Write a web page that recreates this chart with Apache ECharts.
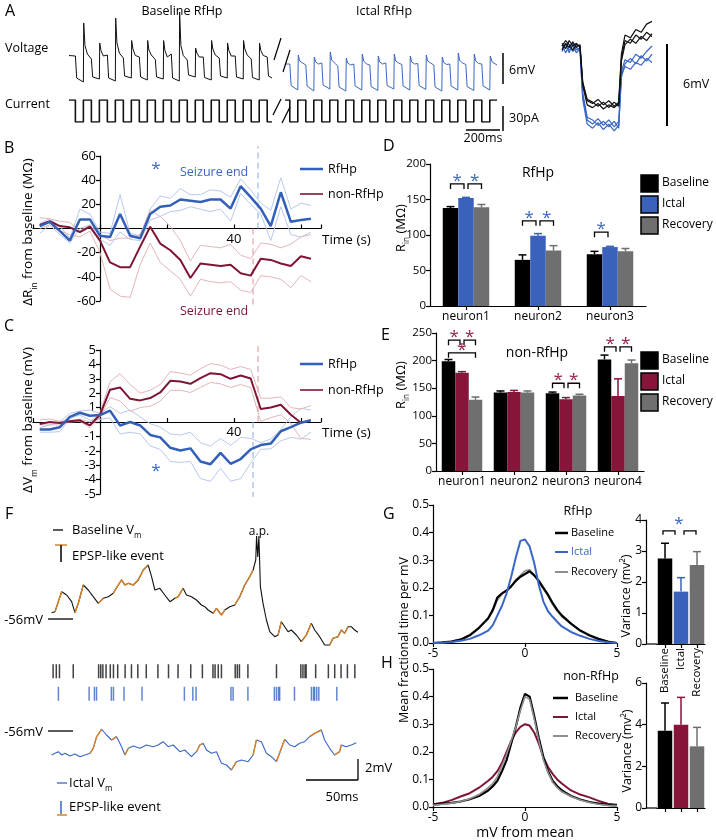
<!DOCTYPE html>
<html>
<head>
<meta charset="utf-8">
<script src="https://cdn.jsdelivr.net/npm/echarts@6.0.0/dist/echarts.min.js"></script>
<style>
  html, body { margin: 0; padding: 0; background: #fff; }
  #chart { width: 716px; height: 840px; }
</style>
</head>
<body>
<div id="chart"></div>
<script>
// ---------- data ----------

// A: step protocol (ms, pA) and voltage responses (ms, mV re. plateau)
const baseCurrent = [[0,0],[40,-30],[90,0],[140,-30],[190,0],[240,-30],[290,0],[340,-30],[390,0],[440,-30],[490,0],[540,-30],[590,0],[640,-30],[690,0],[740,-30],[790,0],[840,-30],[890,0],[940,-30],[990,0],[1040,-30],[1090,0],[1140,-30],[1190,0],[1240,-30],[1270,-30]];
const ictalCurrent = [[0,0],[30,-30],[80,0],[130,-30],[180,0],[230,-30],[280,0],[330,-30],[380,0],[430,-30],[480,0],[530,-30],[580,0],[630,-30],[680,0],[730,-30],[780,0],[830,-30],[880,0],[930,-30],[980,0],[1030,-30],[1080,0],[1130,-30],[1180,0],[1230,-30],[1280,0],[1325,0]];
const baseVoltage = [[0,0.5],[8,0.2],
  [40,0.4],[48,-4.0],[90,-4.8],[92,7.0],[100,2.5],[115,0.8],
  [140,-0.2],[148,-3.8],[190,-4.2],[192,3.0],[200,1.5],[215,0.4],
  [240,0.6],[248,-4.0],[290,-4.6],[292,8.0],[300,3.0],[315,1.0],
  [340,0],[348,-3.6],[390,-4.0],[392,3.5],[400,1.8],[415,0.5],
  [440,0.2],[448,-3.8],[490,-4.4],[492,3.5],[500,1.6],[515,0.6],
  [540,-0.3],[548,-3.8],[590,-4.2],[592,3.5],[600,1.5],[615,0.2],
  [640,0.8],[648,-4.0],[690,-4.6],[692,9.2],[700,2.5],[715,0.5],
  [740,-0.4],[748,-3.4],[790,-3.8],[792,2.0],[800,1.0],[815,0.2],
  [840,0.2],[848,-3.9],[890,-4.4],[892,3.5],[900,1.8],[915,0.6],
  [940,0],[948,-3.6],[990,-4.0],[992,3.0],[1000,1.5],[1015,0.4],
  [1040,0.4],[1048,-3.8],[1090,-4.2],[1092,3.5],[1100,1.8],[1115,0.6],
  [1140,-0.2],[1148,-3.9],[1190,-4.4],[1192,3.0],[1200,1.5],[1215,0.5],
  [1240,0.2],[1248,-3.6],[1270,-4.0]];
const ictalVoltage = [[0,-1.2],
  [30,-1.2],[38,-5.5],[80,-6.4],[83,0.6],[92,-0.6],[110,-1.0],
  [130,-1.4],[138,-5.6],[180,-6.6],[183,0.2],[192,-0.8],[210,-1.2],
  [230,-1.0],[238,-5.4],[280,-6.2],[283,1.2],[292,-0.4],[310,-1.0],
  [330,-1.6],[338,-5.8],[380,-6.6],[383,0],[392,-1.0],[410,-1.4],
  [430,-1.2],[438,-5.6],[480,-6.4],[483,0.8],[492,-0.6],[510,-1.2],
  [530,-1.4],[538,-5.7],[580,-6.5],[583,0.4],[592,-0.8],[610,-1.2],
  [630,-1.0],[638,-5.5],[680,-6.2],[683,0.8],[692,-0.6],[710,-1.0],
  [730,-1.3],[738,-5.6],[780,-6.4],[783,0.4],[792,-0.8],[810,-1.2],
  [830,-1.1],[838,-5.5],[880,-6.3],[883,0.6],[892,-0.6],[910,-1.0],
  [930,-1.4],[938,-5.8],[980,-6.6],[983,0.2],[992,-0.9],[1010,-1.3],
  [1030,-1.2],[1038,-5.6],[1080,-6.4],[1083,1.0],[1092,-0.5],[1110,-1.0],
  [1130,-1.3],[1138,-5.7],[1180,-6.5],[1183,0.8],[1192,-0.6],[1210,-1.1],
  [1230,-1.2],[1238,-5.6],[1280,-6.4],[1283,0.4],[1295,-0.8],[1325,-1.4]];
// A inset: overlaid single steps (ms, mV)
const insetBase1 = [[0,-0.2],[4,0.3],[8,0],[12,0.4],[16,0],[20,0.2],[23,-2.5],[28,-3.9],[34,-4.1],[40,-3.8],[46,-4.2],[52,-3.9],[58,-4.3],[63,-4.0],[66,-0.5],[70,0.9],[76,0.7],[82,1.3],[88,1.1],[94,1.7],[100,1.9]];
const insetBase2 = [[0,0.3],[4,-0.1],[8,0.5],[12,0.1],[16,0.3],[20,0],[23,-2.8],[28,-4.2],[34,-4.4],[40,-4.1],[46,-4.5],[52,-4.2],[58,-4.4],[63,-4.1],[66,-0.8],[70,0.5],[76,0.3],[82,0.9],[88,0.6],[94,1.1],[100,0.8]];
const insetBase3 = [[0,0.1],[4,0.5],[8,0.2],[12,-0.2],[16,0.2],[20,0.1],[23,-2.6],[28,-3.8],[34,-4.0],[40,-4.3],[46,-4.0],[52,-4.4],[58,-4.0],[63,-4.3],[66,-1.0],[70,0.2],[76,0.6],[82,0.3],[88,0.8],[94,0.5],[100,1.0]];
const insetIctal1 = [[0,-0.3],[4,0.2],[8,-0.4],[12,0.3],[16,-0.2],[20,0],[23,-3.5],[28,-5.3],[34,-5.6],[40,-5.2],[46,-5.7],[52,-5.3],[58,-5.8],[63,-5.4],[66,-1.8],[70,-0.9],[76,-1.1],[82,-0.5],[88,-0.8],[94,-0.3],[100,0.1]];
const insetIctal2 = [[0,0.2],[4,-0.4],[8,0.1],[12,-0.3],[16,0],[20,-0.2],[23,-3.8],[28,-5.6],[34,-5.9],[40,-5.5],[46,-6.0],[52,-5.6],[58,-6.1],[63,-5.7],[66,-2.2],[70,-1.2],[76,-0.8],[82,-1.2],[88,-0.6],[94,-1.0],[100,-0.5]];
const insetIctal3 = [[0,-0.1],[4,0.3],[8,-0.2],[12,0.1],[16,-0.4],[20,-0.1],[23,-3.3],[28,-5.1],[34,-5.3],[40,-5.7],[46,-5.4],[52,-5.8],[58,-5.4],[63,-5.9],[66,-2.0],[70,-1.4],[76,-1.6],[82,-1.1],[88,-1.3],[94,-0.8],[100,-1.1]];

// B, C: time course (s)
const timeS = [-18,-15,-12,-9,-6,-3,0,3,6,9,12,15,18,21,24,27,30,33,36,39,42,45,48,51,54,57,60,63];
const rfhpRinMean = [2,5.5,-2,-10,7.5,7.5,-6,-7,12,-6,-8,12,18,19,24,23,22,24,24,16.5,35,26,16.5,2,30,5.5,7,8];
const rfhpRinUp = [4,8,2,-8,16,12,-3,-4,28,-4,-6,16,27,25,33,28,28,32,31,26,41,32,21,15,42,16,21,19];
const rfhpRinLo = [-4,3,-5,-12,0,3,-9,-14,-3,-9,-10,7,10,14,15,18,16,14,16,6,29,20,12,-10,18,-5,-7,-3];
const nonRinMean = [3,6,2,1,-3,1.5,-10,-28,-32,-32,-15,1.5,-12.5,-18,-26,-41,-29,-30,-31,-30,-37,-39,-25,-26,-29,-31,-23,-25];
const nonRinUp = [9,8,6,5,-2,3,-5,-10,-8,-8,-5,15,10,2,-10,-27,-14,-15,-16,-13,-22,-25,-12,-13,-16,-13,-7,-5];
const nonRinLo = [0,3,-2,-5,-7,-2,-20,-50,-56,-57,-30,-12,-28,-35,-42,-56,-42,-44,-45,-44,-51,-53,-39,-40,-42,-49,-39,-44];
const rfhpVmMean = [-0.52,-0.52,-0.36,0.36,0.64,0.43,0.48,0.79,-0.24,0,-0.24,-0.9,-1.07,-1.79,-1.98,-1.83,-2.74,-2.93,-2.14,-2.9,-2.57,-1.9,-1.6,-1.5,-0.64,-0.36,-0.05,0.12];
const rfhpVmUp = [-0.2,-0.2,0,0.6,0.76,0.83,0.6,1.07,0.6,0.83,0.36,-0.12,-0.36,-0.83,-0.9,-0.71,-1.43,-1.67,-1.14,-1.62,-1.07,-1.14,-1.43,-1.19,-0.52,0.36,0.95,0.83];
const rfhpVmLo = [-0.71,-0.71,-0.67,0.24,0.48,0.12,0.19,0.29,-0.83,-0.71,-0.83,-1.67,-1.9,-2.74,-2.81,-2.74,-3.93,-4.12,-3.21,-4.12,-3.93,-2.86,-1.9,-1.86,-1.31,-1.07,-1.19,-0.71];
const nonVmMean = [-0.14,0,-0.07,0.05,0.12,-0.23,0.5,2.24,2.4,1.61,1.5,1.66,2.05,2.86,2.81,2.65,3.04,3.39,3.32,3.0,3.23,3.02,0.9,1.01,1.2,0.5,-0.05,null];
const nonVmUp = [0.15,0.2,0.05,0.1,0.2,0,0.6,2.8,3.35,2.6,2.0,2.2,2.6,3.5,3.4,3.25,3.7,4.05,3.95,3.65,3.85,3.65,1.65,1.65,1.75,1.0,0.9,1.15];
const nonVmLo = [-0.4,-0.2,-0.2,0,0.05,-0.4,0.35,1.7,1.45,0.75,1.0,1.1,1.45,2.2,2.2,2.05,2.4,2.75,2.65,2.4,2.6,2.4,0.05,0.3,0.5,-0.1,-1.15,-1.2];
const seizureEndUpper = 47.2, seizureEndLower = 45.7;

// D, E: input resistance (MOhm)
const neuronsD = ['neuron1', 'neuron2', 'neuron3'];
const baseD = [138, 65, 73], baseErrD = [2, 7, 4];
const ictalD = [152, 99, 83], ictalErrD = [1, 3, 1];
const recD = [139, 78, 77], recErrD = [4, 7, 4];
const sigD = [[0,0,1,172],[0,1,2,172],[1,0,1,120],[1,1,2,120],[2,0,1,104]]; // [neuron, barA, barB, level]
const neuronsE = ['neuron1', 'neuron2', 'neuron3', 'neuron4'];
const baseE = [199, 142, 141, 202], baseErrE = [3, 3, 2, 8];
const ictalE = [178, 143, 130, 136], ictalErrE = [2, 3, 3, 31];
const recE = [129, 142, 137, 195], recErrE = [5, 3, 2, 6];
const sigE = [[0,0,1,237],[0,1,2,237],[0,0,2,214],[2,0,1,159],[2,1,2,159],[3,0,1,225],[3,1,2,225]];

// F: Vm traces (ms, mV) and EPSP-like event times (ms)
const baseVm = [[0.6,-55.27],[3.8,-55.17],[10.1,-53.17],[14.8,-53.5],[19.5,-54.17],[22.6,-55.27],[25.8,-54.33],[30.5,-52.5],[35.2,-53],[39.9,-53.67],[44.7,-54.33],[49.4,-53.83],[54.1,-53.67],[58.8,-53.33],[63.5,-52.5],[66.7,-52],[69.8,-52.5],[73,-52.33],[77.7,-52.5],[82.4,-52],[87.1,-51],[91.8,-50.5],[95,-51.67],[98.1,-53],[102.8,-52.83],[107.5,-53.5],[112.3,-54.17],[117,-53.83],[120.1,-53.67],[124.8,-52.83],[128,-53.5],[132.7,-53.67],[137.4,-54],[142.1,-54.5],[145.3,-54.67],[148.4,-55],[153.1,-55.33],[156.3,-54.83],[161,-55.5],[164.2,-55],[168.9,-54.67],[173.6,-54.5],[178.3,-53.67],[183,-52.5],[187.7,-51.67],[190.9,-51],[193.4,-50],[194.2,-47.6],[195.3,-49.7],[196.4,-47.6],[197.8,-52.67],[200.3,-54.33],[203.5,-56],[206.6,-57.17],[211.3,-57.67],[214.5,-57.5],[217.6,-56.17],[220.8,-56.67],[223.9,-57.17],[227,-57],[231.8,-57.5],[236.5,-58.17],[241.2,-57.5],[245.9,-56.33],[249.1,-57],[253.8,-57.67],[258.5,-58.5],[263.2,-58.5],[266.4,-57.83],[271,-57.67],[274.2,-57],[277.4,-57.33],[280.5,-56.67],[283.7,-56.67],[286.8,-57],[289.9,-57.23]];
const ictalVm = [[0.6,-58.3],[3.8,-58.13],[6.9,-57.97],[10.1,-58.3],[13.2,-58.13],[17.9,-58.4],[22.6,-58.2],[27.4,-58.47],[32.1,-58.3],[36.8,-58.13],[39.9,-57.63],[43.1,-56.47],[47.8,-55.73],[52.5,-56.3],[57.2,-56.8],[61.9,-56.47],[66.7,-57.47],[69.8,-58.3],[73,-57.63],[77.7,-57.4],[84,-57.63],[90.3,-57.3],[96.5,-57.47],[101.2,-57.3],[105.9,-56.97],[110.7,-57.47],[115.4,-57.3],[121.7,-57.97],[126.4,-57.8],[129.6,-58.13],[132.7,-58.47],[137.4,-57.97],[140.6,-57.3],[143.7,-57.13],[146.9,-57.8],[151.6,-58.13],[156.3,-57.97],[161,-59.13],[165.7,-59.3],[170.4,-59.8],[175.2,-58.97],[179.9,-58.8],[186.2,-58.97],[190.9,-58.3],[194,-56.8],[198.7,-56.97],[203.5,-58.13],[208.2,-58.47],[212.9,-58.97],[217.6,-57.63],[220.8,-56.73],[225.5,-57.3],[230.2,-57.47],[234.9,-57.13],[239.6,-56.97],[244.3,-56.47],[249.1,-56.13],[255.3,-55.8],[258.5,-56.8],[263.2,-57.63],[267.9,-58.3],[272.6,-57.97],[274.2,-57.3],[278.9,-57.47],[283.7,-57.3],[288.4,-57.07]];
const baseEvents = [[3.8,10.1],[22.6,30.5],[44.7,49.4],[58.8,66.7],[69.8,73],[77.7,91.8],[117,124.8],[153.1,156.3],[161,164.2],[173.6,190.9],[214.5,217.6],[236.5,245.9],[263.2,266.4],[271,274.2],[277.4,280.5]];
const ictalEvents = [[36.8,47.8],[57.2,61.9],[69.8,73],[137.4,143.7],[170.4,175.2],[190.9,194],[212.9,220.8],[244.3,255.3],[267.9,274.2]];
const baseRaster = [2,5,8,21,45,47,49,52,56,59,63,70,76,82,90,101,111,120,132,143,153,155,158,161,174,176,178,186,213,236,238,240,241,250,262,268,274,280,287];
const ictalRaster = [7,36,41,43,57,59,69,86,126,134,137,170,172,186,211,213,215,216,230,246,248,249,251,253,270];

// G, H: Vm distributions and variance
const mvFromMean = [-5,-4.5,-4,-3.5,-3,-2.5,-2,-1.75,-1.5,-1.25,-1,-0.75,-0.5,-0.25,0,0.25,0.5,0.75,1,1.25,1.5,1.75,2,2.5,3,3.5,4,4.5,5];
const rfhpDistBase = [0,0.002,0.005,0.012,0.028,0.055,0.09,0.12,0.165,0.18,0.19,0.205,0.225,0.24,0.25,0.26,0.245,0.225,0.2,0.175,0.145,0.12,0.1,0.07,0.045,0.028,0.015,0.005,0];
const rfhpDistIctal = [0,0.001,0.004,0.008,0.015,0.028,0.045,0.065,0.1,0.135,0.18,0.24,0.31,0.37,0.375,0.35,0.29,0.21,0.15,0.115,0.095,0.077,0.06,0.04,0.026,0.015,0.007,0.003,0];
const rfhpDistRec = [0,0.002,0.006,0.014,0.03,0.055,0.088,0.115,0.155,0.178,0.19,0.207,0.23,0.245,0.262,0.265,0.248,0.22,0.195,0.17,0.14,0.115,0.095,0.07,0.045,0.026,0.013,0.005,0];
const nonDistBase = [0.008,0.012,0.015,0.02,0.028,0.04,0.06,0.075,0.095,0.13,0.17,0.23,0.29,0.36,0.41,0.4,0.33,0.25,0.18,0.13,0.095,0.075,0.06,0.04,0.027,0.018,0.012,0.008,0.005];
const nonDistIctal = [0.01,0.015,0.025,0.038,0.05,0.07,0.095,0.11,0.13,0.16,0.2,0.24,0.27,0.29,0.3,0.295,0.27,0.23,0.18,0.145,0.12,0.1,0.085,0.06,0.045,0.035,0.022,0.012,0.008];
const nonDistRec = [0.006,0.01,0.014,0.02,0.03,0.045,0.07,0.085,0.11,0.15,0.19,0.24,0.29,0.35,0.4,0.39,0.32,0.24,0.17,0.125,0.09,0.07,0.055,0.038,0.025,0.016,0.01,0.006,0.004];
const conditions = ['Baseline', 'Ictal', 'Recovery'];
const varRfhp = [2.76, 1.69, 2.55], varErrRfhp = [0.49, 0.45, 0.43];
const varNon = [3.71, 4.0, 2.96], varErrNon = [1.33, 1.31, 0.91];
const sigG = [[0,1,3.65],[1,2,3.65]];
const starG = [[1, 3.92]];

// ---------- styling ----------
const FONT = '"Open Sans", "Noto Sans", sans-serif';
const BLUE = '#3260b8', LBLUE = '#b9c9ec', RED = '#7e1533', LRED = '#e3b6b8';
const BAR_BLUE = '#3b62ba', BAR_RED = '#861539', GRAY = '#6f6f6f', LGRAY = '#8e8e8e';
const ORANGE = '#d9822b';

const grids = [], xAxes = [], yAxes = [], series = [], gfx = [];

function addGrid(rect, xa, ya) {
  const i = grids.length;
  grids.push(Object.assign({outerBoundsMode: 'none'}, rect));
  xAxes.push(Object.assign({gridIndex: i}, xa));
  yAxes.push(Object.assign({gridIndex: i}, ya));
  return i;
}
function hidden(min, max) { return {type: 'value', min: min, max: max, show: false}; }
function axis(base, size) {
  return Object.assign({
    axisLine: {show: true, onZero: false, lineStyle: {color: '#000', width: 1.2}},
    axisTick: {show: true, length: 4, lineStyle: {color: '#000', width: 1.2}},
    axisLabel: {color: '#000', fontFamily: FONT, fontSize: size, margin: 4},
    splitLine: {show: false}
  }, base);
}
function line(gi, data, color, width, z, extra) {
  return Object.assign({type: 'line', xAxisIndex: gi, yAxisIndex: gi, data: data, symbol: 'none',
    lineStyle: {color: color, width: width}, z: z || 2, silent: true, animation: false}, extra || {});
}
function pairs(xs, ys) { return xs.map((x, i) => [x, ys[i]]); }
function inEvents(pts, ranges) {
  return pts.map(p => ranges.some(r => p[0] >= r[0] && p[0] <= r[1]) ? p : [p[0], null]);
}
function errBars(gi, vals, errs, offset, colors) {
  return {type: 'custom', xAxisIndex: gi, yAxisIndex: gi, z: 1, silent: true,
    data: vals.map((v, i) => [i, v, errs[i]]),
    renderItem: (p, api) => {
      const b = api.coord([api.value(0), api.value(1)]);
      const t = api.coord([api.value(0), api.value(1) + api.value(2)]);
      const x = b[0] + offset;
      const c = Array.isArray(colors) ? colors[p.dataIndex] : colors;
      return {type: 'group', children: [
        {type: 'line', shape: {x1: x, y1: b[1], x2: x, y2: t[1]}, style: {stroke: c, lineWidth: 1.5}},
        {type: 'line', shape: {x1: x - 4, y1: t[1], x2: x + 4, y2: t[1]}, style: {stroke: c, lineWidth: 1.5}}]};
    }};
}
function star(x, y, color) {
  return {type: 'text', x: x, y: y, style: {text: '*', fill: color, fontFamily: FONT, fontSize: 17,
    textAlign: 'center', textVerticalAlign: 'middle', align: 'center', verticalAlign: 'middle'}};
}
function brackets(gi, rows, bw, color) {
  return {type: 'custom', xAxisIndex: gi, yAxisIndex: gi, z: 5, silent: true, data: rows,
    renderItem: (p, api) => {
      const c = api.value(0), a = api.value(1), b = api.value(2);
      const pt = api.coord([c, api.value(3)]);
      let x1 = pt[0] + (a - 1) * bw, x2 = pt[0] + (b - 1) * bw;
      if (a === 1) x1 += 2;
      if (b === 1) x2 -= 2;
      const y = pt[1];
      return {type: 'group', children: [
        {type: 'polyline', shape: {points: [[x1, y + 5], [x1, y], [x2, y], [x2, y + 5]]}, style: {stroke: '#000', lineWidth: 1.3, fill: null}},
        star((x1 + x2) / 2, y - 3, color)]};
    }};
}
function txt(x, y, text, size, color, align, rot, rich) {
  const st = {text: text, fill: color || '#000', fontFamily: FONT, fontSize: size || 12,
    textAlign: align || 'left', textVerticalAlign: 'middle', align: align || 'left', verticalAlign: 'middle'};
  if (rich) st.rich = rich;
  return {type: 'text', x: x, y: y, rotation: rot || 0, z: 50, style: st};
}
function seg(x1, y1, x2, y2, color, w, dash) {
  const st = {stroke: color || '#000', lineWidth: w || 1.2};
  if (dash) st.lineDash = dash;
  return {type: 'line', z: 50, shape: {x1: x1, y1: y1, x2: x2, y2: y2}, style: st};
}
function box(x, y, color) {
  return {type: 'rect', z: 50, shape: {x: x, y: y, width: 17, height: 17}, style: {fill: color, stroke: '#000', lineWidth: 1.5}};
}
function sub(size, color) {
  return {a: {fontSize: size, fontFamily: FONT, fill: color, color: color},
          s: {fontSize: size * 0.62, fontFamily: FONT, fill: color, color: color, verticalAlign: 'bottom', lineHeight: size * 1.5}};
}

// ---------- A ----------
const gA1 = addGrid({left: 69, top: 10, width: 203, height: 90}, hidden(0, 1270), hidden(-8.4, 9.6));
const gA2 = addGrid({left: 69, top: 100, width: 203, height: 22}, hidden(0, 1270), hidden(-30, 0));
const gA3 = addGrid({left: 285, top: 10, width: 212, height: 90}, hidden(0, 1325), hidden(-8.4, 9.6));
const gA4 = addGrid({left: 285, top: 100, width: 212, height: 22}, hidden(0, 1325), hidden(-30, 0));
const gA5 = addGrid({left: 562, top: 20, width: 90, height: 115}, hidden(0, 100), hidden(-6.4, 2));
series.push(line(gA1, baseVoltage, '#111', 1));
series.push(line(gA2, baseCurrent, '#111', 1.6, 2, {step: 'end'}));
series.push(line(gA3, ictalVoltage, '#3a66c4', 1));
series.push(line(gA4, ictalCurrent, '#111', 1.6, 2, {step: 'end'}));
[insetBase1, insetBase2, insetBase3].forEach(d => series.push(line(gA5, d, '#111', 1.2, 3)));
[insetIctal1, insetIctal2, insetIctal3].forEach(d => series.push(line(gA5, d, '#3a66c4', 1.2, 2)));
gfx.push(txt(5, 11, 'A', 16));
gfx.push(txt(182, 11, 'Baseline RfHp', 12.5, '#000', 'center'));
gfx.push(txt(384, 11, 'Ictal RfHp', 12.5, '#000', 'center'));
gfx.push(txt(5, 48, 'Voltage', 12.5));
gfx.push(txt(5, 104, 'Current', 12.5));
gfx.push(seg(274, 60, 281, 38), seg(283, 72, 290, 50), seg(273, 115, 281, 99), seg(282, 123, 290, 107));
gfx.push(seg(503, 53, 503, 84, '#000', 1.5), txt(509, 70, '6mV', 12.5));
gfx.push(seg(503, 106, 503, 131, '#000', 1.5), txt(509, 118, '30pA', 12.5));
gfx.push(seg(466, 130, 500, 130, '#000', 1.5), txt(483, 138, '200ms', 12.5, '#000', 'center'));
gfx.push(seg(667, 44, 667, 126, '#000', 2), txt(683, 84, '6mV', 12.5));

// ---------- B, C ----------
// axes cross at (0, 0): moved there with offsets from the grid edges
function timeAxes(ymin, ymax, yint, zeroShiftX, zeroShiftY) {
  const xa = axis({type: 'value', min: -20, max: 66, interval: 20, offset: -zeroShiftY}, 13);
  xa.axisTick.inside = true;
  xa.axisLabel.formatter = v => v === 40 ? '40' : '';
  const ya = axis({type: 'value', min: ymin, max: ymax, interval: yint, offset: -zeroShiftX}, 13);
  ya.axisLabel.formatter = v => v === 0 ? '' : String(v);
  return [xa, ya];
}
const axB = timeAxes(-60, 60, 20, 67, 72.5);
const gB = addGrid({left: 33, top: 156, width: 288, height: 145}, axB[0], axB[1]);
const axC = timeAxes(-5, 5, 1, 67, 72);
const gC = addGrid({left: 33, top: 350, width: 288, height: 144}, axC[0], axC[1]);

function timeSeries(gi, rm, ru, rl, nm, nu, nl) {
  series.push(line(gi, pairs(timeS, ru), LBLUE, 1, 1));
  series.push(line(gi, pairs(timeS, rl), LBLUE, 1, 1));
  series.push(line(gi, pairs(timeS, nu), LRED, 1, 1));
  series.push(line(gi, pairs(timeS, nl), LRED, 1, 1));
  series.push(line(gi, pairs(timeS, nm), RED, 2, 3));
  series.push(line(gi, pairs(timeS, rm), BLUE, 2.5, 4));
}
timeSeries(gB, rfhpRinMean, rfhpRinUp, rfhpRinLo, nonRinMean, nonRinUp, nonRinLo);
timeSeries(gC, rfhpVmMean, rfhpVmUp, rfhpVmLo, nonVmMean, nonVmUp, nonVmLo);
function dashed(gi, x, y1, y2, color) {
  return line(gi, [[x, y1], [x, y2]], color, 1.2, 1, {lineStyle: {color: color, width: 1.2, type: [6, 4]}, clip: false});
}
series.push(dashed(gB, seizureEndUpper, 0, 68, '#9fb6e6'), dashed(gB, seizureEndLower, 0, -64, '#e0a5a8'));
series.push(dashed(gC, seizureEndUpper, 0, 5.5, '#e0a5a8'), dashed(gC, seizureEndLower, 0, -5.2, '#9fb6e6'));

gfx.push(txt(4, 148, 'B', 16), txt(4, 326, 'C', 16));
gfx.push(txt(322, 240, 'Time (s)', 13.5), txt(322, 433, 'Time (s)', 13.5));
gfx.push(txt(28, 232, '{a|ΔR}{s|in}{a| from baseline (MΩ)}', 13.5, '#000', 'center', Math.PI / 2, sub(13.5, '#000')));
gfx.push(txt(28, 420, '{a|ΔV}{s|m}{a| from baseline (mV)}', 13.5, '#000', 'center', Math.PI / 2, sub(13.5, '#000')));
[[169, 194], [364, 390]].forEach(ys => {
  gfx.push(seg(300, ys[0], 323, ys[0], BLUE, 2.5), txt(328, ys[0], 'RfHp', 12.5));
  gfx.push(seg(300, ys[1], 323, ys[1], RED, 1.6), txt(328, ys[1], 'non-RfHp', 12.5));
});
gfx.push(txt(180, 172, 'Seizure end', 12.5, '#3a66c4'));
gfx.push(txt(180, 311, 'Seizure end', 12.5, RED));
gfx.push(star(156, 169, '#3a66c4'), star(156, 471, '#3a66c4'));

// ---------- D, E ----------
function barAxes(cats, max, interval) {
  const xa = axis({type: 'category', data: cats}, 12);
  xa.axisTick.alignWithLabel = true;
  xa.axisLabel.margin = 5;
  xa.axisLabel.interval = 0;
  const ya = axis({type: 'value', min: 0, max: max, interval: interval}, 11.5);
  return [xa, ya];
}
const axD = barAxes(neuronsD, 200, 50);
const gD = addGrid({left: 430, top: 164, width: 216, height: 142}, axD[0], axD[1]);
const axE = barAxes(neuronsE, 250, 50);
const gE = addGrid({left: 436, top: 333, width: 208, height: 138}, axE[0], axE[1]);

function groupBars(gi, bw, ictalColor, b, be, ic, ie, r, re, sig) {
  [[b, '#000'], [ic, ictalColor], [r, GRAY]].forEach(s => series.push({type: 'bar', xAxisIndex: gi, yAxisIndex: gi,
    data: s[0], barWidth: bw, barGap: '0%', itemStyle: {color: s[1]}, z: 2, animation: false, silent: true}));
  series.push(errBars(gi, b, be, -bw, '#000'), errBars(gi, ic, ie, 0, ictalColor), errBars(gi, r, re, bw, GRAY));
  series.push(brackets(gi, sig, bw, ictalColor === BAR_BLUE ? '#3a66c4' : '#9b1d45'));
}
groupBars(gD, 15.5, BAR_BLUE, baseD, baseErrD, ictalD, ictalErrD, recD, recErrD, sigD);
groupBars(gE, 13.5, BAR_RED, baseE, baseErrE, ictalE, ictalErrE, recE, recErrE, sigE);

gfx.push(txt(383, 146, 'D', 16), txt(381, 335, 'E', 16));
gfx.push(txt(538, 173, 'RfHp', 14, '#000', 'center'), txt(537, 353, 'non-RfHp', 14, '#000', 'center'));
gfx.push(txt(401, 228, '{a|R}{s|in}{a| (MΩ)}', 13, '#000', 'center', Math.PI / 2, sub(13, '#000')));
gfx.push(txt(401, 385, '{a|R}{s|in}{a| (MΩ)}', 13, '#000', 'center', Math.PI / 2, sub(13, '#000')));
[[175, BAR_BLUE], [352, BAR_RED]].forEach(l => {
  const y0 = l[0];
  gfx.push(box(641, y0, '#000'), txt(662, y0 + 8, 'Baseline', 12));
  gfx.push(box(641, y0 + 21, l[1]), txt(662, y0 + 29, 'Ictal', 12));
  gfx.push(box(641, y0 + 42, GRAY), txt(662, y0 + 50, 'Recovery', 12));
});

// ---------- F ----------
const gF1 = addGrid({left: 51, top: 530, width: 307, height: 120}, hidden(0, 290), hidden(-59, -47));
const gF2 = addGrid({left: 51, top: 660, width: 307, height: 45}, hidden(0, 290), hidden(-0.5, 1.5));
const gF3 = addGrid({left: 51, top: 720, width: 307, height: 60}, hidden(0, 290), hidden(-60.8, -54.8));
series.push(line(gF1, baseVm, '#111', 1.1, 2));
series.push(line(gF1, inEvents(baseVm, baseEvents), ORANGE, 1.4, 3));
series.push(line(gF3, ictalVm, '#3a66c4', 1.1, 2));
series.push(line(gF3, inEvents(ictalVm, ictalEvents), ORANGE, 1.4, 3));
series.push({type: 'scatter', xAxisIndex: gF2, yAxisIndex: gF2, data: baseRaster.map(t => [t, 1]), symbol: 'rect',
  symbolSize: [1.5, 14], itemStyle: {color: '#111'}, silent: true, animation: false});
series.push({type: 'scatter', xAxisIndex: gF2, yAxisIndex: gF2, data: ictalRaster.map(t => [t, 0]), symbol: 'rect',
  symbolSize: [1.5, 14], itemStyle: {color: '#3a66c4'}, silent: true, animation: false});

gfx.push(txt(5, 514, 'F', 16));
gfx.push(seg(53, 530, 63, 530, '#000', 1.3), txt(72, 530, '{a|Baseline V}{s|m}', 13, '#000', 'left', 0, sub(13, '#000')));
gfx.push(seg(55, 545, 67, 545, ORANGE, 1.5), seg(61, 545, 61, 562, '#000', 1.5), txt(72, 556, 'EPSP-like event', 13));
gfx.push(txt(259, 532, 'a.p.', 12, '#000', 'center'));
gfx.push(txt(43, 620, '-56mV', 13, '#000', 'right'), seg(48, 619, 73, 619, '#000', 1.3));
gfx.push(txt(43, 732, '-56mV', 13, '#000', 'right'), seg(48, 731, 73, 731, '#000', 1.3));
gfx.push(seg(306, 780, 358, 780, '#000', 1.3), seg(358, 759, 358, 780, '#000', 1.3));
gfx.push(txt(342, 797, '50ms', 13, '#000', 'center'), txt(365, 768, '2mV', 13));
gfx.push(seg(57, 783, 67, 783, '#3a66c4', 1.3), txt(69, 783, '{a|Ictal V}{s|m}', 13, '#000', 'left', 0, sub(13, '#000')));
gfx.push(seg(61, 801, 61, 814, '#3a66c4', 1.5), seg(57, 815, 67, 815, ORANGE, 1.5), txt(69, 807, 'EPSP-like event', 13));

// ---------- G, H ----------
function distAxes() {
  const xa = axis({type: 'value', min: -5, max: 5, interval: 5}, 12);
  xa.axisLabel.margin = 5;
  const ya = axis({type: 'value', min: 0, max: 0.5, interval: 0.1}, 12);
  ya.axisLabel.formatter = v => v.toFixed(1);
  return [xa, ya];
}
function varAxes(max, interval, showLabels) {
  const xa = axis({type: 'category', data: conditions}, 11.5);
  xa.axisTick.alignWithLabel = true;
  xa.axisLabel.rotate = 90;
  xa.axisLabel.interval = 0;
  xa.axisLabel.show = showLabels;
  const ya = axis({type: 'value', min: 0, max: max, interval: interval, offset: 11}, 12);
  return [xa, ya];
}
const axG = distAxes();
const gG = addGrid({left: 433, top: 505, width: 184, height: 138}, axG[0], axG[1]);
const axGv = varAxes(4, 1, true);
const gGv = addGrid({left: 657, top: 520, width: 48, height: 124}, axGv[0], axGv[1]);
const axH = distAxes();
const gH = addGrid({left: 433, top: 669, width: 184, height: 138}, axH[0], axH[1]);
const axHv = varAxes(6, 2, false);
const gHv = addGrid({left: 657, top: 683, width: 48, height: 125}, axHv[0], axHv[1]);

series.push(line(gG, pairs(mvFromMean, rfhpDistRec), LGRAY, 1.6, 2));
series.push(line(gG, pairs(mvFromMean, rfhpDistBase), '#000', 2.2, 3));
series.push(line(gG, pairs(mvFromMean, rfhpDistIctal), '#3a66c4', 2, 4));
series.push(line(gH, pairs(mvFromMean, nonDistRec), LGRAY, 1.6, 4));
series.push(line(gH, pairs(mvFromMean, nonDistIctal), RED, 2, 2));
series.push(line(gH, pairs(mvFromMean, nonDistBase), '#000', 2.2, 3));

function varBars(gi, vals, errs, colors) {
  series.push({type: 'bar', xAxisIndex: gi, yAxisIndex: gi, barWidth: 14.5, z: 2, silent: true, animation: false,
    data: vals.map((v, i) => ({value: v, itemStyle: {color: colors[i]}}))});
  series.push(errBars(gi, vals, errs, 0, colors));
}
varBars(gGv, varRfhp, varErrRfhp, ['#000', BAR_BLUE, GRAY]);
varBars(gHv, varNon, varErrNon, ['#000', BAR_RED, GRAY]);
series.push({type: 'custom', xAxisIndex: gGv, yAxisIndex: gGv, z: 5, silent: true, data: sigG,
  renderItem: (p, api) => {
    const a = api.value(0), b = api.value(1);
    const pa = api.coord([a, api.value(2)]), pb = api.coord([b, api.value(2)]);
    const x1 = pa[0] - 2 + (a === 1 ? 5 : 0), x2 = pb[0] + (b === 1 ? -6 : -1), y = pa[1];
    return {type: 'polyline', shape: {points: [[x1, y + 4], [x1, y], [x2, y], [x2, y + 4]]}, style: {stroke: '#000', lineWidth: 1.3, fill: null}};
  }});
series.push({type: 'custom', xAxisIndex: gGv, yAxisIndex: gGv, z: 5, silent: true, data: starG,
  renderItem: (p, api) => { const c = api.coord([api.value(0), api.value(1)]); return star(c[0] - 2, c[1] + 2, '#3a66c4'); }});

gfx.push(txt(383, 514, 'G', 16), txt(381, 663, 'H', 16));
gfx.push(seg(646, 644, 657, 644, '#000', 1.2), seg(646, 808, 657, 808, '#000', 1.2));
gfx.push(txt(578, 511, 'RfHp', 12.5, '#000', 'center'), txt(591, 676, 'non-RfHp', 12.5, '#000', 'center'));
gfx.push(seg(555, 533, 568, 533, '#000', 2.5), txt(571, 533, 'Baseline', 11));
gfx.push(seg(555, 552, 568, 552, '#3a66c4', 2), txt(571, 552, 'Ictal', 11, '#3a66c4'));
gfx.push(seg(555, 572, 568, 572, LGRAY, 2), txt(571, 572, 'Recovery', 11));
gfx.push(seg(553, 698, 568, 698, '#000', 2.5), txt(575, 698, 'Baseline', 11));
gfx.push(seg(553, 717, 568, 717, RED, 2), txt(575, 717, 'Ictal', 11));
gfx.push(seg(553, 736, 568, 736, LGRAY, 2), txt(575, 736, 'Recovery', 11));
gfx.push(txt(404, 640, 'Mean fractional time per mV', 12.5, '#000', 'center', Math.PI / 2));
gfx.push(txt(525, 833, 'mV from mean', 14, '#000', 'center'));
gfx.push(txt(626, 596, 'Variance (mv²)', 12.5, '#000', 'center', Math.PI / 2));
gfx.push(txt(627, 751, 'Variance (mv²)', 12.5, '#000', 'center', Math.PI / 2));

const chart = echarts.init(document.getElementById('chart'), null, {renderer: 'canvas'});
chart.setOption({
  backgroundColor: '#fff',
  animation: false,
  textStyle: {fontFamily: FONT},
  grid: grids,
  xAxis: xAxes,
  yAxis: yAxes,
  series: series,
  graphic: gfx
});
</script>
</body>
</html>
